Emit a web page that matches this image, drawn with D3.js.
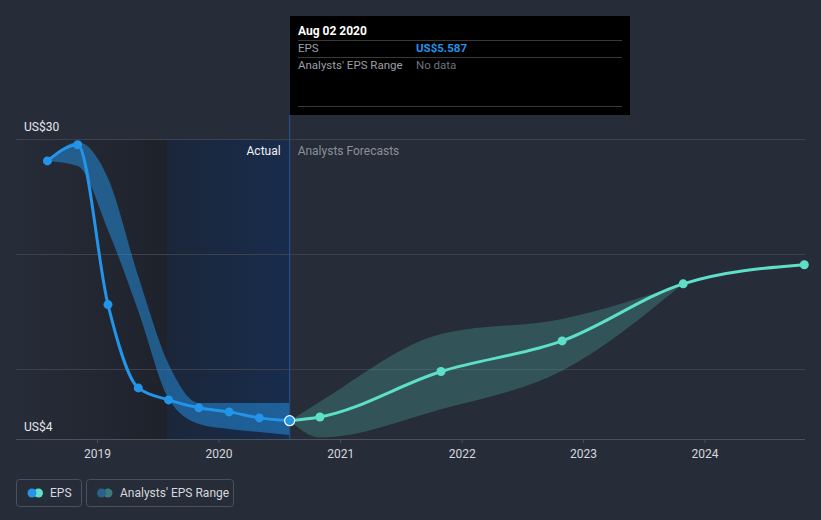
<!DOCTYPE html>
<html><head><meta charset="utf-8">
<script src="https://cdnjs.cloudflare.com/ajax/libs/d3/7.8.5/d3.min.js"></script>
<style>
html,body{margin:0;padding:0;background:#262c38;}
svg{display:block;font-family:Roboto,"Noto Sans",sans-serif;}
</style></head>
<body>
<svg id="chart" width="821" height="520"></svg>
<script>
// ---- data ----
const epsDates = ["2018-08-05","2018-11-04","2019-02-03","2019-05-05","2019-08-04","2019-11-03","2020-02-02","2020-05-03","2020-08-02"];
const epsValues = [28.1, 29.5, 15.65, 8.43, 7.39, 6.70, 6.35, 5.83, 5.587];

const pastRangeDates = ["2018-08-05","2018-11-04","2019-02-03","2019-05-05","2019-08-04","2019-11-03","2020-02-02","2020-05-03","2020-08-02"];
const pastRangeLow  = [28.1, 27.65, 22.1, 15.1, 7.5, 5.3, 4.87, 4.6, 4.35];
const pastRangeHigh = [28.1, 29.74, 26.6, 18.1, 10.5, 7.13, 7.13, 7.13, 7.13];

const fcDates = ["2020-08-02","2020-11-01","2021-10-31","2022-10-30","2023-10-29","2024-10-27"];
const fcValues = [5.587, 5.91, 9.85, 12.5, 17.45, 19.1];

const fcRangeDates = ["2020-08-02","2020-11-01","2021-10-31","2022-10-30","2023-10-29"];
const fcRangeLow  = [5.587, 4.13, 6.58, 9.91, 17.45];
const fcRangeHigh = [5.587, 7.23, 13.1, 14.4, 17.45];

const yTickValues = [4, 10, 20, 30];
const yTickLabels = {4:"US$4", 30:"US$30"};
const xTickYears = [2019, 2020, 2021, 2022, 2023, 2024];

const actualStart = "2019-08-01";
const todayDate = "2020-08-02";

const tooltipTitle = "Aug 02 2020";
const tooltipRows = [["EPS","US$5.587"],["Analysts' EPS Range","No data"]];

(function(){
// ---- setup ----
const parse = d3.timeParse("%Y-%m-%d");
const svg = d3.select("#chart");
const pl = 16, pr = 805, pt = 139, pb = 439;

const x = d3.scaleTime()
  .domain([new Date(2019,0,1), new Date(2024,0,1)])
  .range([97, 704.5]);
const y = d3.scaleLinear().domain([4, 30]).range([pb, pt]);

const defs = svg.append("defs");
const g1 = defs.append("linearGradient").attr("id","pastGrad").attr("x1","0").attr("x2","1").attr("y1","0").attr("y2","0");
g1.append("stop").attr("offset","0").attr("stop-color","#262c38");
g1.append("stop").attr("offset","1").attr("stop-color","#1e222b");
const g2 = defs.append("linearGradient").attr("id","actGrad").attr("x1","0").attr("x2","1").attr("y1","0").attr("y2","0");
g2.append("stop").attr("offset","0").attr("stop-color","#1b263a");
g2.append("stop").attr("offset","1").attr("stop-color","#182c4c");

const xActual = x(parse(actualStart)), xToday = x(parse(todayDate));

// shaded regions
svg.append("rect").attr("x", pl).attr("y", pt).attr("width", xActual - pl).attr("height", pb - pt)
  .attr("fill","url(#pastGrad)");
svg.append("rect").attr("x", xActual).attr("y", pt).attr("width", xToday - xActual).attr("height", pb - pt)
  .attr("fill","url(#actGrad)");

// gridlines
svg.append("g").selectAll("line").data(yTickValues.filter(v => v !== 4)).join("line")
  .attr("x1", pl).attr("x2", pr).attr("y1", d => y(d)).attr("y2", d => y(d))
  .attr("stroke", "#3b414d").attr("stroke-width", 1).attr("shape-rendering","crispEdges");

// x axis
const xAxis = d3.axisBottom(x)
  .tickValues(xTickYears.map(yr => new Date(yr,0,1)))
  .tickFormat(d3.timeFormat("%Y"))
  .tickSize(4).tickSizeOuter(0).tickPadding(6);
const ax = svg.append("g").attr("transform", `translate(0,${pb})`).call(xAxis);
ax.select(".domain").remove();
ax.selectAll(".tick line").attr("stroke","#4b515d");
ax.selectAll(".tick text").attr("fill","#d5d8de").attr("font-size", 12).attr("font-family","Roboto, sans-serif");
svg.append("line").attr("x1", pl).attr("x2", pr).attr("y1", pb + 0.5).attr("y2", pb + 0.5)
  .attr("stroke","#4b515d").attr("stroke-width",1);

// y labels
svg.append("g").selectAll("text").data(yTickValues.filter(v => yTickLabels[v])).join("text")
  .attr("x", 24).attr("y", d => y(d) - 8)
  .attr("fill","#e6e8ec").attr("font-size", 12).text(d => yTickLabels[d]);

// bands
const pastBand = pastRangeDates.map((d,i) => ({d: parse(d), lo: pastRangeLow[i], hi: pastRangeHigh[i]}));
const fcBand = fcRangeDates.map((d,i) => ({d: parse(d), lo: fcRangeLow[i], hi: fcRangeHigh[i]}));
const area = d3.area().x(p => x(p.d)).y0(p => y(p.lo)).y1(p => y(p.hi)).curve(d3.curveMonotoneX);
svg.append("path").datum(pastBand).attr("d", area).attr("fill","#2394e8").attr("fill-opacity",0.5);
svg.append("path").datum(fcBand).attr("d", area).attr("fill","#5ee0c8").attr("fill-opacity",0.22);

// today line
svg.append("line").attr("x1", xToday).attr("x2", xToday).attr("y1", 115).attr("y2", pb)
  .attr("stroke","#25508c").attr("stroke-width",1.2);

// labels
svg.append("text").attr("x", xToday - 9).attr("y", 155).attr("text-anchor","end")
  .attr("fill","#f0f2f5").attr("font-size",12).text("Actual");
svg.append("text").attr("x", xToday + 8).attr("y", 155)
  .attr("fill","#8b9099").attr("font-size",12).text("Analysts Forecasts");

// lines
const eps = epsDates.map((d,i) => ({d: parse(d), v: epsValues[i]}));
const fc = fcDates.map((d,i) => ({d: parse(d), v: fcValues[i]}));
const line = d3.line().x(p => x(p.d)).y(p => y(p.v)).curve(d3.curveMonotoneX);
svg.append("path").datum(fc).attr("d", line).attr("fill","none").attr("stroke","#5ee0c8").attr("stroke-width",3);
svg.append("path").datum(eps).attr("d", line).attr("fill","none").attr("stroke","#2394e8").attr("stroke-width",3);

svg.append("g").selectAll("circle").data(fc.slice(1)).join("circle")
  .attr("cx", p => x(p.d)).attr("cy", p => y(p.v)).attr("r", 4.5).attr("fill","#5ee0c8");
svg.append("g").selectAll("circle").data(eps.slice(0,-1)).join("circle")
  .attr("cx", p => x(p.d)).attr("cy", p => y(p.v)).attr("r", 4.5).attr("fill","#2394e8");
const last = eps[eps.length-1];
svg.append("circle").attr("cx", x(last.d)).attr("cy", y(last.v)).attr("r", 5)
  .attr("fill","#2394e8").attr("stroke","#ffffff").attr("stroke-width",1.2);

// tooltip
const tt = svg.append("g");
tt.append("rect").attr("x", 290).attr("y", 16).attr("width", 340).attr("height", 99).attr("fill","#000000");
tt.append("text").attr("x", 298).attr("y", 35).attr("fill","#ffffff").attr("font-size",12).attr("font-weight","bold").text(tooltipTitle);
[40.5, 57.5, 106.5].forEach(yy => tt.append("line").attr("x1", 298).attr("x2", 622).attr("y1", yy).attr("y2", yy).attr("stroke","#3a3a3a"));
tooltipRows.forEach((r,i) => {
  tt.append("text").attr("x", 298).attr("y", 52 + i*17).attr("fill","#9a9ea6").attr("font-size",11.5).text(r[0]);
  tt.append("text").attr("x", 416).attr("y", 52 + i*17)
    .attr("fill", i === 0 ? "#2394e8" : "#6f737a").attr("font-weight", i === 0 ? "bold" : "normal")
    .attr("font-size",11.5).text(r[1]);
});

// legend
const lg = svg.append("g");
lg.append("rect").attr("x",16.5).attr("y",479.5).attr("width",65).attr("height",27).attr("rx",3)
  .attr("fill","none").attr("stroke","#4b515d");
lg.append("circle").attr("cx",38.5).attr("cy",493).attr("r",4.5).attr("fill","#5ee0c8");
lg.append("circle").attr("cx",32).attr("cy",493).attr("r",4.5).attr("fill","#2394e8");
lg.append("text").attr("x",50).attr("y",497).attr("fill","#d5d8de").attr("font-size",12).text("EPS");
lg.append("rect").attr("x",86.5).attr("y",479.5).attr("width",147).attr("height",27).attr("rx",3)
  .attr("fill","none").attr("stroke","#4b515d");
lg.append("circle").attr("cx",108).attr("cy",493).attr("r",4.5).attr("fill","#3a7a7a");
lg.append("circle").attr("cx",101.5).attr("cy",493).attr("r",4.5).attr("fill","#2b5f8c");
lg.append("text").attr("x",120).attr("y",497).attr("fill","#d5d8de").attr("font-size",12).text("Analysts' EPS Range");
})();
</script>
</body></html>
